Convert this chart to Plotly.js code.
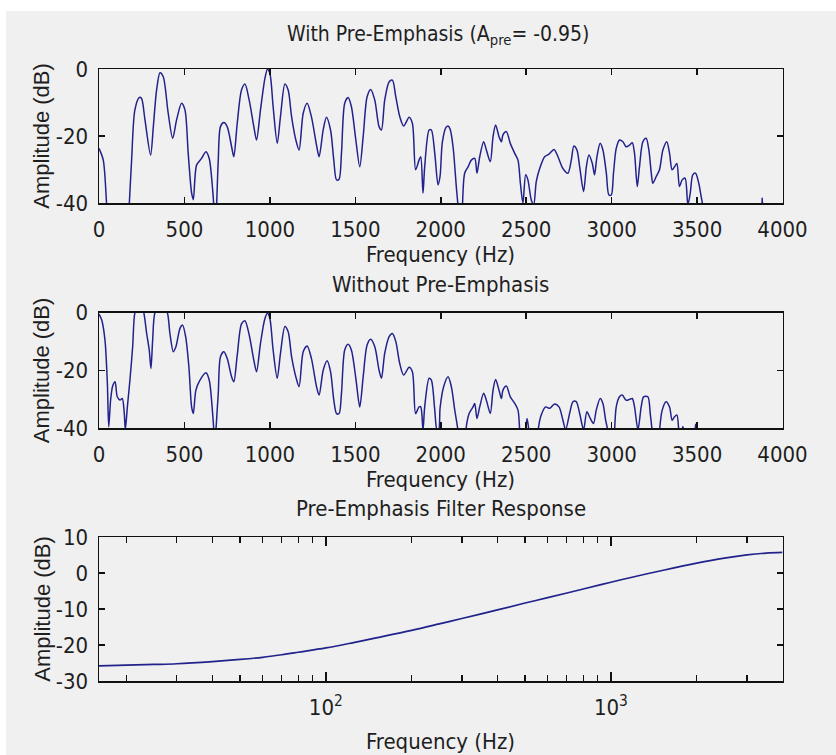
<!DOCTYPE html>
<html>
<head>
<meta charset="utf-8">
<script src="https://cdn.plot.ly/plotly-3.0.1.min.js"></script>
<style>html,body{margin:0;padding:0;background:#fff;}</style>
</head>
<body>
<div id="chart" style="width:836px;height:755px;"></div>
<script>
// Magnitude spectrum of the speech frame after pre-emphasis (Hz, dB)
const withPreFreq = [0,25,45,60,165,177,191,210,236,249,269,302,318,337,357,376,405,431,454,483,503,522,542,552,571,600,626,645,665,672,680,688,698,711,731,750,776,789,809,834,854,879,906,922,945,971,986,1000,1019,1043,1062,1088,1107,1127,1152,1171,1195,1218,1243,1273,1288,1312,1331,1355,1374,1390,1405,1419,1438,1458,1477,1503,1526,1546,1569,1590,1614,1639,1653,1672,1698,1717,1737,1760,1783,1815,1834,1853,1873,1883,1896,1906,1932,1945,1965,1984,1996,2009,2030,2043,2055,2072,2091,2101,2110,2122,2127,2140,2160,2179,2199,2212,2228,2251,2267,2290,2306,2321,2341,2355,2364,2384,2407,2433,2452,2466,2481,2497,2510,2530,2544,2559,2579,2608,2633,2663,2686,2715,2744,2764,2779,2797,2813,2836,2852,2867,2887,2900,2914,2933,2949,2969,2984,2998,3011,3027,3046,3066,3085,3105,3121,3134,3150,3163,3183,3202,3218,3232,3241,3261,3280,3300,3323,3339,3354,3368,3382,3397,3413,3430,3446,3460,3475,3491,3510,3524,3534,3545,3870,3881,3890,4000];
const withPreDb = [-23.7,-27.2,-40.5,-50,-50,-40.5,-27,-12.2,-8.5,-8.8,-15.2,-25.7,-17.2,-6.3,-1.1,-2.3,-13.2,-20.7,-15.2,-10.2,-12.2,-25.2,-37,-39,-28.7,-26.7,-24.7,-26.7,-36,-41,-50,-41,-27.2,-17.2,-16,-17.2,-23.2,-26.2,-16.2,-6.3,-4.5,-9.3,-17.2,-21.2,-12.2,-2.8,-0.1,-1.3,-11.2,-22.2,-14.2,-4.5,-6.3,-14.2,-21.2,-24.2,-13.2,-10.2,-14.2,-22.7,-26.2,-18.2,-14.4,-18.2,-27.2,-33.1,-32.9,-25.2,-10.2,-8.5,-11.2,-21.2,-29.2,-20.2,-8.3,-6.1,-9.3,-17.2,-18.2,-9.3,-3.8,-3.3,-8.3,-14.2,-17,-14.4,-16.2,-30.1,-27.2,-26.2,-37.1,-29.2,-18.2,-18.2,-25.2,-34.6,-32,-22,-17.5,-17,-18,-23.2,-35.1,-41,-50,-50,-41,-31.1,-29.2,-27.2,-26.7,-31.1,-26.2,-21.7,-24.2,-27.7,-20.2,-16.7,-20.2,-21.7,-19.7,-18.7,-22.2,-25.2,-27.2,-34.1,-40,-31.6,-33.1,-39.1,-40.5,-33.6,-29.7,-26.2,-25.4,-24,-26.2,-29.7,-31.1,-27.2,-23,-24.2,-29.2,-36.6,-29.2,-25.7,-28.2,-31.6,-26.2,-22.2,-24.2,-31.1,-37.6,-37.6,-31.1,-23.7,-21.2,-21.7,-23.2,-22.7,-22,-25.2,-35.1,-29.2,-21.7,-20.7,-24.2,-31.1,-34.1,-32.1,-30.1,-24.2,-21.7,-25.2,-30.1,-29.2,-28.2,-35.1,-33.1,-32.6,-40.5,-37.1,-31.6,-31.1,-34.1,-38.1,-41,-50,-50,-38.6,-50,-50];

// Magnitude spectrum of the same frame without pre-emphasis (Hz, dB)
const noPreFreq = [0,16,35,49,57,68,80,94,107,123,136,148,154,166,181,197,210,235,259,279,294,304,314,327,362,400,415,435,450,474,489,507,526,542,552,567,591,626,645,665,672,678,684,698,711,731,750,776,789,809,834,854,879,906,922,945,971,986,1000,1019,1043,1062,1088,1107,1127,1152,1171,1195,1218,1243,1273,1288,1312,1335,1355,1374,1390,1405,1419,1438,1458,1477,1503,1526,1546,1569,1590,1614,1639,1653,1672,1698,1717,1737,1760,1783,1815,1834,1853,1873,1883,1896,1906,1932,1945,1965,1978,1988,1996,2017,2043,2062,2082,2101,2110,2138,2146,2166,2189,2199,2212,2228,2251,2267,2290,2306,2321,2341,2355,2364,2384,2407,2433,2452,2462,2470,2497,2505,2516,2525,2560,2569,2588,2614,2637,2666,2692,2715,2731,2754,2774,2793,2813,2836,2855,2875,2894,2910,2933,2949,2965,2978,2988,3008,3017,3027,3046,3062,3085,3105,3121,3134,3154,3173,3187,3212,3226,3237,3245,3272,3280,3296,3319,3339,3354,3368,3382,3393,3405,3412,3417,3422,3430,3484,3489,3491,3494,3500,4000];
const noPreDb = [-0.5,-2.5,-9.5,-24.5,-39.5,-30.2,-25.4,-23.9,-29.1,-30.2,-29.7,-34.9,-40.5,-32.6,-23.3,-11.8,0,4,0.9,-7.2,-12.9,-19.3,-9.5,0,4,0,-7.2,-13.5,-11.8,-5.4,-4.3,-8.3,-18.7,-32.6,-34.9,-26.8,-23.3,-20.8,-23.3,-34.9,-41,-50,-41,-27.9,-15.2,-13.5,-15.8,-22.2,-23.9,-14.7,-3.9,-2.8,-7.7,-16.4,-20.4,-10.6,-2,-0.2,-2,-12.9,-22.7,-14.1,-4.8,-6.6,-15.2,-22.2,-25.6,-13.5,-11.5,-15.8,-25.6,-28.5,-19.9,-16.6,-20.4,-30.2,-34.9,-34.9,-27.9,-12.9,-10.9,-12.9,-22.7,-32.6,-22.2,-11.2,-9.2,-11.8,-19.9,-22.7,-14.1,-8.3,-7.2,-10,-17.6,-21.6,-18.9,-20.4,-34.9,-32.6,-32.6,-40.5,-32.6,-22.7,-23.3,-33.7,-40.5,-40.5,-33,-25.6,-22.2,-25.6,-33.7,-41,-50,-50,-41,-34.9,-32.6,-31.4,-36.6,-32.6,-27.9,-30.3,-34.9,-26.8,-23.1,-26.8,-29.7,-26.8,-25.4,-29.1,-31.4,-33.7,-41,-50,-41,-36.6,-41,-50,-50,-41,-35.4,-32.6,-33.1,-31.6,-32.6,-37.2,-40.5,-34.9,-30.8,-30.8,-34.9,-40.5,-34.3,-36.6,-38.3,-33.7,-29.7,-31.4,-37.2,-41,-50,-50,-41,-32.6,-29.1,-28.5,-30.3,-30,-29.7,-32.6,-40.5,-32.6,-29.1,-29.1,-34.9,-41,-50,-50,-41,-33.7,-30.8,-32.6,-37.2,-36,-35.4,-41,-50,-41,-39.4,-41,-50,-50,-41,-38.6,-41,-50,-50];

// Pre-emphasis filter magnitude response (Hz, dB)
const filterFreq = [16,20,25,30,40,50,60,70,80,100,125,150,200,250,300,400,500,600,800,1000,1250,1500,2000,2500,3000,3500,4000];
const filterDb = [-25.8,-25.6,-25.4,-25.2,-24.6,-24.0,-23.4,-22.7,-22.0,-20.8,-19.3,-18.0,-15.9,-14.1,-12.6,-10.2,-8.3,-6.8,-4.4,-2.5,-0.7,0.7,2.8,4.2,5.1,5.6,5.8];

// Tick positions and labels
const linTickVals = [0,500,1000,1500,2000,2500,3000,3500,4000];
const linTickText = ['0','500','1000','1500','2000','2500','3000','3500','4000'];
const specYVals = [-40,-20,0];
const specYText = ['-40','-20','0'];
const respYVals = [-30,-20,-10,0,10];
const respYText = ['-30','-20','-10','0','10'];
const logMajorVals = [100,1000];
const logMajorText = ['10<sup>2</sup>','10<sup>3</sup>'];
const logMinorVals = [20,30,40,50,60,70,80,90,200,300,400,500,600,700,800,900,2000,3000];

const W = 836, H = 755;
const fx = p => p / W;
const fy = p => 1 - p / H;

const LINE = '#22228c';
const TXT = '#1e1e1e';
const NARROW = 'Liberation Sans Narrow, Arial Narrow, DejaVu Sans Condensed, sans-serif';
const REG = 'Liberation Sans, Arial, sans-serif';

const traces = [
  {x: withPreFreq, y: withPreDb, xaxis: 'x', yaxis: 'y', mode: 'lines',
   line: {color: LINE, width: 1.5, shape: 'spline', smoothing: 0.8}, hoverinfo: 'skip'},
  {x: noPreFreq, y: noPreDb, xaxis: 'x2', yaxis: 'y2', mode: 'lines',
   line: {color: LINE, width: 1.5, shape: 'spline', smoothing: 0.8}, hoverinfo: 'skip'},
  {x: filterFreq, y: filterDb, xaxis: 'x3', yaxis: 'y3', mode: 'lines',
   line: {color: LINE, width: 1.7, shape: 'spline'}, hoverinfo: 'skip'}
];

const axBase = {
  showline: true, linecolor: '#111', linewidth: 1.5, mirror: 'allticks',
  ticks: 'inside', ticklen: 6, tickwidth: 1.5, tickcolor: '#111',
  showgrid: false, zeroline: false, fixedrange: true,
  tickfont: {family: NARROW, size: 22, color: TXT}
};

const xDom = [fx(99), fx(782.5)];

const layout = {
  width: W, height: H,
  margin: {l: 0, r: 0, t: 0, b: 0},
  paper_bgcolor: '#ffffff', plot_bgcolor: 'rgba(0,0,0,0)',
  showlegend: false,
  xaxis: Object.assign({}, axBase, {domain: xDom, anchor: 'y', range: [0, 4000],
    tickmode: 'array', tickvals: linTickVals, ticktext: linTickText, ticklabelstandoff: 6}),
  yaxis: Object.assign({}, axBase, {domain: [fy(203), fy(69)], anchor: 'x', range: [-40, 0],
    tickmode: 'array', tickvals: specYVals, ticktext: specYText, ticklabelstandoff: 5}),
  xaxis2: Object.assign({}, axBase, {domain: xDom, anchor: 'y2', range: [0, 4000],
    tickmode: 'array', tickvals: linTickVals, ticktext: linTickText, ticklabelstandoff: 6}),
  yaxis2: Object.assign({}, axBase, {domain: [fy(428.3), fy(312.7)], anchor: 'x2', range: [-40, 0],
    tickmode: 'array', tickvals: specYVals, ticktext: specYText, ticklabelstandoff: 5}),
  xaxis3: Object.assign({}, axBase, {domain: xDom, anchor: 'y3', type: 'log',
    range: [Math.log10(16), Math.log10(4000)], ticklen: 9,
    tickmode: 'array', tickvals: logMajorVals, ticktext: logMajorText, ticklabelstandoff: 6,
    minor: {tickmode: 'array', tickvals: logMinorVals, ticks: 'inside', ticklen: 6,
            tickwidth: 1.3, tickcolor: '#111'}}),
  yaxis3: Object.assign({}, axBase, {domain: [fy(681), fy(537.3)], anchor: 'x3', range: [-30, 10],
    tickmode: 'array', tickvals: respYVals, ticktext: respYText, ticklabelstandoff: 5}),
  shapes: [
    {type: 'rect', xref: 'paper', yref: 'paper', x0: fx(6), x1: 1, y0: 0, y1: fy(11),
     fillcolor: '#f0f0f0', line: {width: 0}, layer: 'below'}
  ],
  annotations: []
};

function label(text, xp, yp, opts) {
  layout.annotations.push(Object.assign({
    text: text, xref: 'paper', yref: 'paper', x: fx(xp), y: fy(yp),
    xanchor: 'center', yanchor: 'middle', showarrow: false,
    font: {family: NARROW, size: 22, color: TXT}
  }, opts || {}));
}

// Subplot titles
label('With Pre-Emphasis (A<sub>pre</sub>= -0.95)', 438, 35, {font: {family: NARROW, size: 21, color: TXT}});
label('Without Pre-Emphasis', 440.5, 284);
label('Pre-Emphasis Filter Response', 440.5, 509);
// X axis titles
label('Frequency (Hz)', 440.5, 254);
label('Frequency (Hz)', 440.5, 479);
label('Frequency (Hz)', 440.5, 741);
// Y axis titles
[136, 370.5, 609].forEach(c => label('Amplitude (dB)', 41.7, c,
  {textangle: -90, font: {family: REG, size: 22, color: TXT}}));

Plotly.newPlot('chart', traces, layout, {staticPlot: true, displayModeBar: false});
</script>
</body>
</html>
